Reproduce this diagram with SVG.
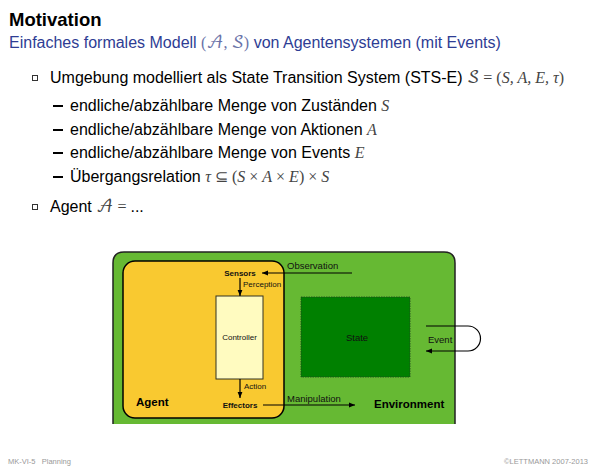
<svg xmlns="http://www.w3.org/2000/svg" width="600" height="467" viewBox="0 0 600 467">
<defs>
<style>
.t{font-family:"Liberation Sans",Arial,sans-serif;fill:#000}
.m{font-family:"Liberation Serif","Times New Roman",serif;font-style:italic;fill:#444}
.mr{font-family:"Liberation Serif","Times New Roman",serif;fill:#444}
.cal{font-family:"DejaVu Math TeX Gyre","DejaVu Serif","DejaVu Sans","Noto Sans",serif;font-style:normal;fill:#444}
.lbl{font-family:"Liberation Sans",Arial,sans-serif;font-size:8px;fill:#111}
.lb2{font-family:"Liberation Sans",Arial,sans-serif;font-size:9.5px;fill:#111}
.b{font-weight:bold}
.ln{stroke:#000;stroke-width:1.2;fill:none}
.sq{fill:none;stroke:#333;stroke-width:1}
</style>
<marker id="ah" viewBox="0 0 10 10" refX="10" refY="5" markerWidth="8" markerHeight="6" orient="auto" markerUnits="userSpaceOnUse">
<path d="M0,1 L10,5 L0,9 Z" fill="#000"/>
</marker>
</defs>
<rect width="600" height="467" fill="#fff"/>

<text class="t b" x="9" y="26" font-size="18.5">Motivation</text>
<text x="9" y="48" font-size="16" font-family="Liberation Sans,Arial,sans-serif" fill="#2e3d94">Einfaches formales Modell <tspan font-family="Liberation Serif,serif" fill="#6a73a8">(</tspan><tspan class="cal" fill="#6a73a8" style="fill:#6a73a8">𝒜</tspan><tspan font-family="Liberation Serif,serif" fill="#6a73a8">, </tspan><tspan class="cal" style="fill:#6a73a8">𝒮</tspan><tspan font-family="Liberation Serif,serif" fill="#6a73a8">)</tspan> von Agentensystemen (mit Events)</text>

<g id="bullets">
<rect class="sq" x="32.5" y="75.5" width="5" height="5"/>
<text class="t" x="50" y="83" font-size="16">Umgebung modelliert als State Transition System (STS-E) <tspan class="cal">𝒮</tspan><tspan class="mr"> = (</tspan><tspan class="m">S, A, E, τ</tspan><tspan class="mr">)</tspan></text>
<rect x="53" y="105" width="10" height="2" fill="#000"/>
<text class="t" x="70" y="111" font-size="16">endliche/abzählbare Menge von Zuständen <tspan class="m">S</tspan></text>
<rect x="53" y="129" width="10" height="2" fill="#000"/>
<text class="t" x="70" y="135" font-size="16">endliche/abzählbare Menge von Aktionen <tspan class="m">A</tspan></text>
<rect x="53" y="152" width="10" height="2" fill="#000"/>
<text class="t" x="70" y="158" font-size="16">endliche/abzählbare Menge von Events <tspan class="m">E</tspan></text>
<rect x="53" y="176" width="10" height="2" fill="#000"/>
<text class="t" x="70" y="182" font-size="16">Übergangsrelation <tspan class="m">τ</tspan><tspan class="mr"> ⊆ (</tspan><tspan class="m">S</tspan><tspan class="mr"> × </tspan><tspan class="m">A</tspan><tspan class="mr"> × </tspan><tspan class="m">E</tspan><tspan class="mr">) × </tspan><tspan class="m">S</tspan></text>
<rect class="sq" x="32.5" y="204.5" width="5" height="5"/>
<text class="t" x="50" y="212" font-size="16">Agent <tspan class="cal">𝒜</tspan><tspan class="mr"> = </tspan>...</text>
</g>

<g id="environment">
<path d="M113,424 V263 Q113,252 124,252 H444 Q455,252 455,263 V424" fill="#66b933" stroke="#222" stroke-width="1.5"/>
<text class="t b" x="374" y="408" font-size="11.5">Environment</text>
</g>

<g id="agent">
<rect x="123" y="261" width="161" height="157" rx="12" fill="#f9c930" stroke="#000" stroke-width="1.5"/>
<text class="t b" x="136" y="406" font-size="11.5">Agent</text>
</g>

<g id="state">
<rect x="301" y="297" width="109" height="80" fill="#008000" stroke="#224422" stroke-width="0.8" stroke-dasharray="1.5,1"/>
<text class="lb2" x="357" y="341" text-anchor="middle">State</text>
</g>

<g id="controller">
<rect x="216" y="296" width="47" height="83" fill="#fffbc0" stroke="#332" stroke-width="1"/>
<text class="lbl" x="239.5" y="340" text-anchor="middle" fill="#444">Controller</text>
</g>

<g id="sensors">
<text class="lbl b" x="240" y="276" text-anchor="middle">Sensors</text>
</g>
<g id="effectors">
<text class="lbl b" x="240" y="408" text-anchor="middle">Effectors</text>
</g>

<g id="connectors">
<line class="ln" x1="352" y1="273" x2="262" y2="273" marker-end="url(#ah)"/>
<text class="lb2" x="287" y="269">Observation</text>
<line class="ln" x1="240" y1="278" x2="240" y2="296" marker-end="url(#ah)"/>
<text class="lbl" x="243" y="287">Perception</text>
<line class="ln" x1="240" y1="379" x2="240" y2="398" marker-end="url(#ah)"/>
<text class="lbl" x="244" y="389">Action</text>
<line class="ln" x1="263" y1="405" x2="355" y2="405" marker-end="url(#ah)"/>
<text class="lb2" x="287" y="402">Manipulation</text>
<path class="ln" d="M426,326 H468 A12.5,12.5 0 0 1 468,351 H426" marker-end="url(#ah)"/>
<text class="lb2" x="428" y="343">Event</text>
</g>

<text x="8" y="464" font-family="Liberation Sans,Arial,sans-serif" font-size="7.5" fill="#999" xml:space="preserve">MK-VI-5   Planning</text>
<text x="588" y="464" text-anchor="end" font-family="Liberation Sans,Arial,sans-serif" font-size="7.5" fill="#999">©LETTMANN 2007-2013</text>
</svg>
